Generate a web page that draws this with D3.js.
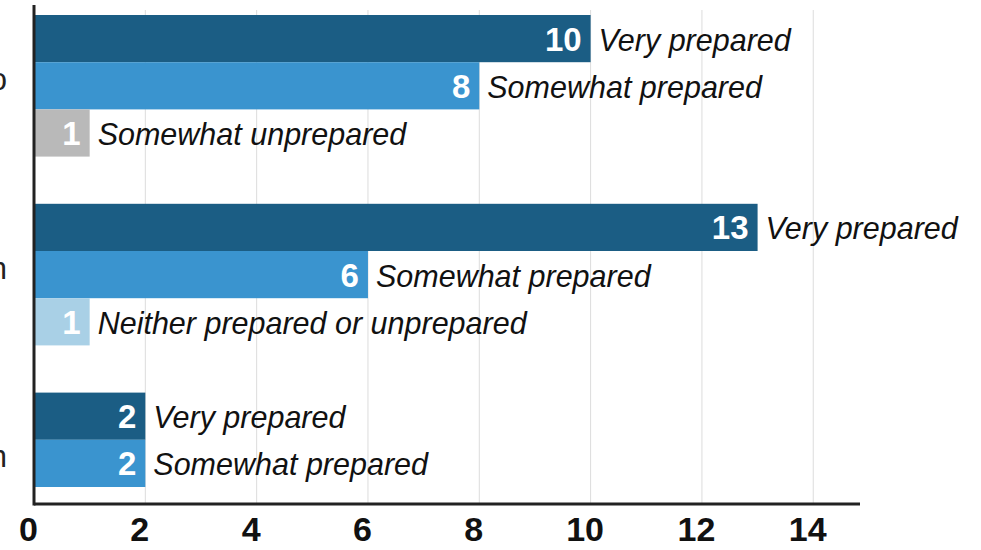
<!DOCTYPE html>
<html>
<head>
<meta charset="utf-8">
<script src="https://cdn.jsdelivr.net/npm/d3@7"></script>
<style>
  body { margin: 0; background: #fff; }
  svg { display: block; }
  text { font-family: "Liberation Sans", Arial, sans-serif; }
</style>
</head>
<body>
<svg></svg>
<script>
// data
let groups = ['Video', 'Simulation', 'Discussion']
let responses = [
  ['Very prepared', 'Somewhat prepared', 'Somewhat unprepared'],
  ['Very prepared', 'Somewhat prepared', 'Neither prepared or unprepared'],
  ['Very prepared', 'Somewhat prepared']
]
let counts = [
  [10, 8, 1],
  [13, 6, 1],
  [2, 2]
]
let ticks = [0, 2, 4, 6, 8, 10, 12, 14]

let colors = {
  'Very prepared': '#1b5d84',
  'Somewhat prepared': '#3a94cf',
  'Somewhat unprepared': '#b9b9b9',
  'Neither prepared or unprepared': '#a9d0e6'
}

let width = 981
let height = 550
let padLeft = 34
let padTop = 15
let axisY = 504

let svg = d3.select('svg').attr('width', width).attr('height', height)

// flat list of rows, with an empty spacer row between groups
let rows = []
let slots = []
groups.forEach((g, gi) => {
  responses[gi].forEach((r, ri) => {
    let id = g + '|' + r
    rows.push({group: g, gi: gi, response: r, value: counts[gi][ri], id: id})
    slots.push(id)
  })
  if (gi < groups.length - 1) slots.push('gap' + gi)
})

let xScale = d3.scaleLinear().domain([0, 14.84]).range([padLeft, 860])
let yScale = d3.scaleBand().domain(slots).range([padTop, 487]).padding(0)

// gridlines
svg.append('g')
  .selectAll('line')
  .data(ticks.filter(t => t > 0))
  .enter()
  .append('line')
  .attr('x1', d => xScale(d))
  .attr('x2', d => xScale(d))
  .attr('y1', 10)
  .attr('y2', axisY)
  .attr('stroke', '#dcdcdc')
  .attr('stroke-width', 1)

// bars
svg.selectAll('rect.bar')
  .data(rows)
  .enter()
  .append('rect')
  .attr('class', 'bar')
  .attr('x', xScale(0))
  .attr('y', d => yScale(d.id))
  .attr('width', d => xScale(d.value) - xScale(0))
  .attr('height', yScale.bandwidth())
  .attr('fill', d => colors[d.response])

// value labels inside bars
svg.selectAll('text.val')
  .data(rows)
  .enter()
  .append('text')
  .attr('class', 'val')
  .attr('x', d => xScale(d.value) - 9)
  .attr('y', d => yScale(d.id) + yScale.bandwidth() / 2 + 12)
  .attr('text-anchor', 'end')
  .attr('fill', '#fff')
  .attr('font-weight', 'bold')
  .attr('font-size', 33)
  .text(d => d.value)

// response labels after bars
svg.selectAll('text.resp')
  .data(rows)
  .enter()
  .append('text')
  .attr('class', 'resp')
  .attr('x', d => xScale(d.value) + 8)
  .attr('y', d => yScale(d.id) + yScale.bandwidth() / 2 + 12)
  .attr('fill', '#111')
  .attr('font-style', 'italic')
  .attr('font-size', 30.5)
  .text(d => d.response)

// group labels, mostly off the left edge (as in the source picture)
svg.selectAll('text.grp')
  .data(groups)
  .enter()
  .append('text')
  .attr('class', 'grp')
  .attr('x', 7)
  .attr('y', (d, i) => yScale(d + '|' + responses[i][0]) + yScale.bandwidth() * 1.35 + 11)
  .attr('text-anchor', 'end')
  .attr('fill', '#222')
  .attr('font-size', 31)
  .text(d => d)

// axes
let xAxis = d3.axisBottom(xScale).tickValues(ticks).tickSize(0).tickPadding(13)
let gx = svg.append('g')
  .attr('transform', 'translate(0,' + axisY + ')')
  .call(xAxis)
gx.select('.domain').attr('stroke', '#222').attr('stroke-width', 3)
  .attr('d', 'M' + padLeft + ',0H860')
gx.selectAll('text')
  .attr('font-size', 34)
  .attr('font-weight', 'bold')
  .attr('fill', '#111')
  .attr('font-family', '"Liberation Sans", Arial, sans-serif')
  .attr('dx', -6)
  .attr('dy', '0.71em')

svg.append('line')
  .attr('x1', padLeft).attr('x2', padLeft)
  .attr('y1', 5).attr('y2', axisY + 1.5)
  .attr('stroke', '#222')
  .attr('stroke-width', 3)
</script>
</body>
</html>
